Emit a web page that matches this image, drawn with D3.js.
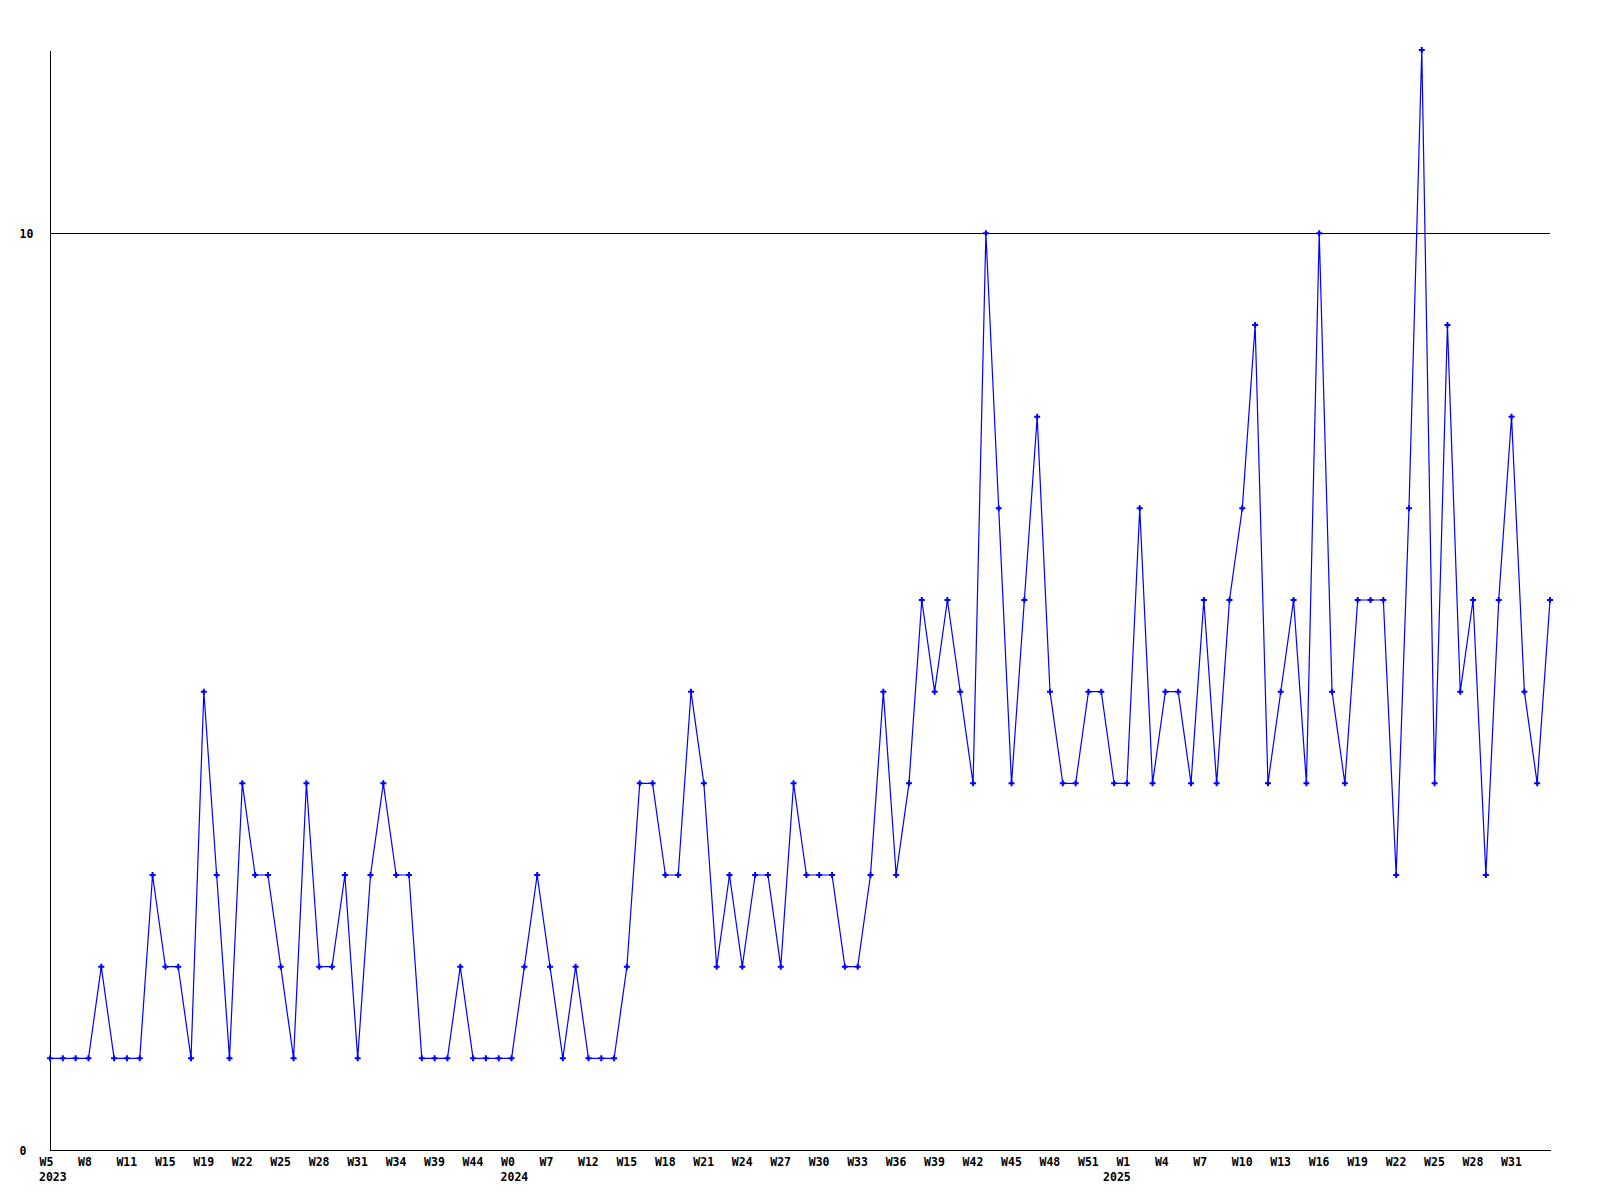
<!DOCTYPE html>
<html><head><meta charset="utf-8">
<script src="https://cdn.jsdelivr.net/npm/d3@7"></script>
<style>
body{margin:0;background:#fff}
svg text{font-family:"DejaVu Sans Mono","Liberation Mono",monospace;font-weight:bold;font-size:11.5px;fill:#000}
</style></head><body>
<svg id="c" width="1600" height="1200"></svg>
<script>
// weekly counts, one per point
const values = [
  1,1,1,1,2,1,1,1,3,2,2,1,
  5,3,1,4,3,3,2,1,4,2,2,3,
  1,3,4,3,3,1,1,1,2,1,1,1,
  1,2,3,2,1,2,1,1,1,2,4,4,
  3,3,5,4,2,3,2,3,3,2,4,3,
  3,3,2,2,3,5,3,4,6,5,6,5,
  4,10,7,4,6,8,5,4,4,5,5,4,
  4,7,4,5,5,4,6,4,6,7,9,4,
  5,6,4,10,5,4,6,6,6,3,7,12,
  4,9,5,6,3,6,8,5,4,6
];
// week labels shown on every third point
const weekTicks = ["W5","W8","W11","W15","W19","W22","W25","W28","W31","W34","W39","W44","W0",
  "W7","W12","W15","W18","W21","W24","W27","W30","W33","W36","W39","W42","W45","W48","W51",
  "W1","W4","W7","W10","W13","W16","W19","W22","W25","W28","W31"];
const tickEvery = 3;
// year labels and the point index where each year starts
const years = ["2023","2024","2025"];
const yearStarts = [0,36,83];
const yTicks = [0,10];
const yMax = 12;

(function(){
const mL = 50, mR = 1550, mT = 50, mB = 1150;
const svg = d3.select("#c");
const x = d3.scaleLinear().domain([0, values.length - 1]).range([mL, mR]);
const y = d3.scaleLinear().domain([0, yMax]).range([mB, mT]);

// y axis with gridline at ticks
const yAx = svg.append("g").attr("transform", `translate(${mL},0)`)
  .call(d3.axisLeft(y).tickValues(yTicks).tickSizeOuter(0).tickSizeInner(-(mR-mL)).tickFormat(d3.format("d")));
yAx.attr("font-size", null).attr("font-family", null);
yAx.selectAll(".tick line").attr("stroke", "#000").attr("shape-rendering", "crispEdges");
yAx.selectAll(".tick text").attr("text-anchor", "start").attr("x", 19.5 - mL).attr("dy", "0.36em");
yAx.select(".domain").attr("stroke", "#000").attr("shape-rendering", "crispEdges");

// x axis
const tickIdx = weekTicks.map((_, i) => i * tickEvery);
const xAx = svg.append("g").attr("transform", `translate(0,${mB})`)
  .call(d3.axisBottom(x).tickValues(tickIdx).tickSize(0).tickFormat((d, i) => weekTicks[i]));
xAx.attr("font-size", null).attr("font-family", null);
xAx.select(".domain").attr("stroke", "#000").attr("shape-rendering", "crispEdges");
xAx.selectAll(".tick text").attr("text-anchor", "start").attr("x", -11).attr("y", 15.5).attr("dy", null);

// year labels
svg.append("g").selectAll("text").data(years).join("text")
  .attr("x", (d, i) => x(yearStarts[i]) - 11)
  .attr("y", mB + 30.5)
  .text(d => d);

// line
const line = d3.line().x((d, i) => x(i)).y(d => y(d));
svg.append("path").datum(values).attr("d", line)
  .attr("fill", "none").attr("stroke", "#0000ff").attr("stroke-width", 1.2);

// markers
svg.append("g").selectAll("path").data(values).join("path")
  .attr("transform", (d, i) => `translate(${x(i)},${y(d)})`)
  .attr("d", d3.symbol(d3.symbolCross, 20))
  .attr("fill", "#0000ff");
})();
</script>
</body></html>
